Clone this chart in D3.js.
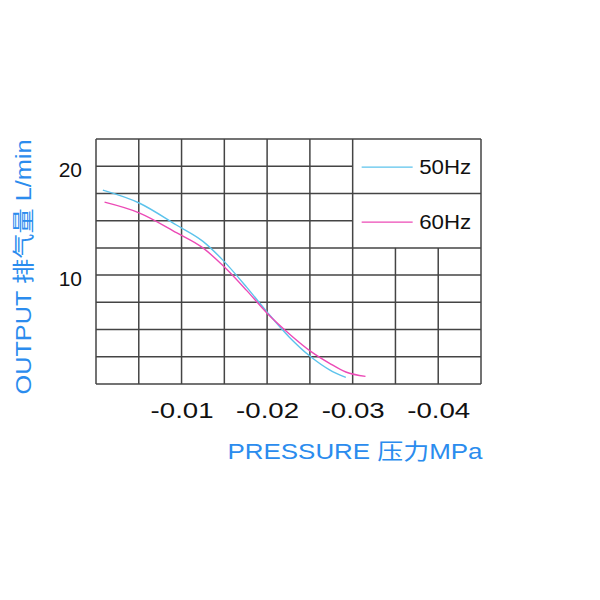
<!DOCTYPE html>
<html>
<head>
<meta charset="utf-8">
<script src="https://cdn.jsdelivr.net/npm/d3@7"></script>
<style>
body { margin: 0; background: #fff; }
</style>
</head>
<body>
<svg></svg>
<script>
// values
var pressure50 = [-0.0008, -0.0051, -0.0094, -0.0125, -0.0148, -0.0176, -0.0200, -0.0226, -0.0251, -0.0273, -0.0292];
var flow50     = [17.8, 16.6, 14.6, 13.1, 11.4, 8.9, 6.6, 4.3, 2.5, 1.3, 0.6];
var pressure60 = [-0.0010, -0.0051, -0.0094, -0.0125, -0.0148, -0.0176, -0.0200, -0.0226, -0.0251, -0.0273, -0.0292, -0.0315];
var flow60     = [16.7, 15.7, 13.9, 12.5, 10.9, 8.6, 6.5, 4.6, 3.0, 1.9, 1.1, 0.7];
var seriesNames = ["50Hz", "60Hz"];
var xTicks = [-0.01, -0.02, -0.03, -0.04];
var yTicks = [10, 20];
var xGrid = [0, -0.005, -0.01, -0.015, -0.02, -0.025, -0.03, -0.035, -0.04, -0.045];
var yGrid = [0, 2.5, 5, 7.5, 10, 12.5, 15, 17.5, 20, 22.5];

var colors = ["#5cc3ec", "#ec4ab6"];
var font = "'Liberation Sans', Arial, 'Noto Sans CJK SC', sans-serif";
var gridColor = "#444";

var svg = d3.select("svg")
    .attr("width", 600)
    .attr("height", 600);

var xScale = d3.scaleLinear().domain([0, -0.045]).range([96, 481]);
var yScale = d3.scaleLinear().domain([0, 22.5]).range([384, 139]);

// legend box takes the top right corner of the grid
var legendLeft = -0.03;
var legendBottom = 12.5;

var grid = svg.append("g").attr("id", "grid")
    .attr("stroke", gridColor)
    .attr("stroke-width", 1.5)
    .attr("fill", "none");

grid.selectAll(".hline")
    .data(yGrid)
    .enter()
    .append("line")
    .attr("class", "hline")
    .attr("x1", xScale(0))
    .attr("x2", function(d){
        return (d > legendBottom && d < 22.5 && d != 17.5) ? xScale(legendLeft) : xScale(-0.045);
    })
    .attr("y1", function(d){ return yScale(d); })
    .attr("y2", function(d){ return yScale(d); });

grid.selectAll(".vline")
    .data(xGrid)
    .enter()
    .append("line")
    .attr("class", "vline")
    .attr("x1", function(d){ return xScale(d); })
    .attr("x2", function(d){ return xScale(d); })
    .attr("y1", function(d){
        return (d < legendLeft && d > -0.045) ? yScale(legendBottom) : yScale(22.5);
    })
    .attr("y2", yScale(0));

// axes
var xAxis = d3.axisBottom(xScale)
    .tickValues(xTicks)
    .tickSize(0)
    .tickPadding(18)
    .tickFormat(function(d){ return d.toFixed(2); });

var yAxis = d3.axisLeft(yScale)
    .tickValues(yTicks)
    .tickSize(0)
    .tickPadding(14);

svg.append("g")
    .attr("id", "xAxis")
    .attr("transform", "translate(0," + yScale(0) + ")")
    .call(xAxis);

svg.append("g")
    .attr("id", "yAxis")
    .attr("transform", "translate(" + xScale(0) + ",0)")
    .call(yAxis);

svg.selectAll("#xAxis .domain, #yAxis .domain").remove();

svg.selectAll("#xAxis text")
    .attr("font-family", font)
    .attr("font-size", 22)
    .attr("fill", "#111")
    .attr("textLength", 63)
    .attr("lengthAdjust", "spacingAndGlyphs");

svg.selectAll("#yAxis text")
    .attr("font-family", font)
    .attr("font-size", 21)
    .attr("fill", "#111")
    .attr("dy", "0.5em");

// axis titles
svg.append("text")
    .attr("x", 355)
    .attr("y", 459)
    .attr("text-anchor", "middle")
    .attr("font-family", font)
    .attr("font-size", 22)
    .attr("fill", "#2b8cee")
    .attr("textLength", 255)
    .attr("lengthAdjust", "spacingAndGlyphs")
    .text("PRESSURE 压力MPa");

svg.append("text")
    .attr("transform", "translate(31,267) rotate(-90)")
    .attr("text-anchor", "middle")
    .attr("font-family", font)
    .attr("font-size", 22)
    .attr("fill", "#2b8cee")
    .attr("textLength", 255)
    .attr("lengthAdjust", "spacingAndGlyphs")
    .text("OUTPUT 排气量 L/min");

// curves
var series = [
    {name: seriesNames[0], pts: pressure50.map(function(p, i){ return [p, flow50[i]]; })},
    {name: seriesNames[1], pts: pressure60.map(function(p, i){ return [p, flow60[i]]; })}
];

var lineGenerator = d3.line()
    .x(function(d){ return xScale(d[0]); })
    .y(function(d){ return yScale(d[1]); })
    .curve(d3.curveMonotoneX);

svg.append("g")
    .attr("id", "curves")
    .selectAll("path")
    .data(series)
    .enter()
    .append("path")
    .attr("fill", "none")
    .attr("stroke", function(d, i){ return colors[i]; })
    .attr("stroke-width", 1.4)
    .attr("d", function(d){ return lineGenerator(d.pts); });

// legend
var legendX = xScale(legendLeft) + 9;
var legendRows = [yScale(20) + 1, yScale(15) + 1.5];

var legend = svg.append("g").attr("id", "legend")
    .selectAll("g")
    .data(seriesNames)
    .enter()
    .append("g")
    .attr("transform", function(d, i){ return "translate(" + legendX + "," + legendRows[i] + ")"; });

legend.append("line")
    .attr("x1", 0)
    .attr("x2", 51)
    .attr("stroke", function(d, i){ return colors[i]; })
    .attr("stroke-width", 1.3);

legend.append("text")
    .attr("x", 57.5)
    .attr("y", 7)
    .attr("font-family", font)
    .attr("font-size", 20)
    .attr("fill", "#111")
    .attr("textLength", 52)
    .attr("lengthAdjust", "spacingAndGlyphs")
    .text(function(d){ return d; });
</script>
</body>
</html>
